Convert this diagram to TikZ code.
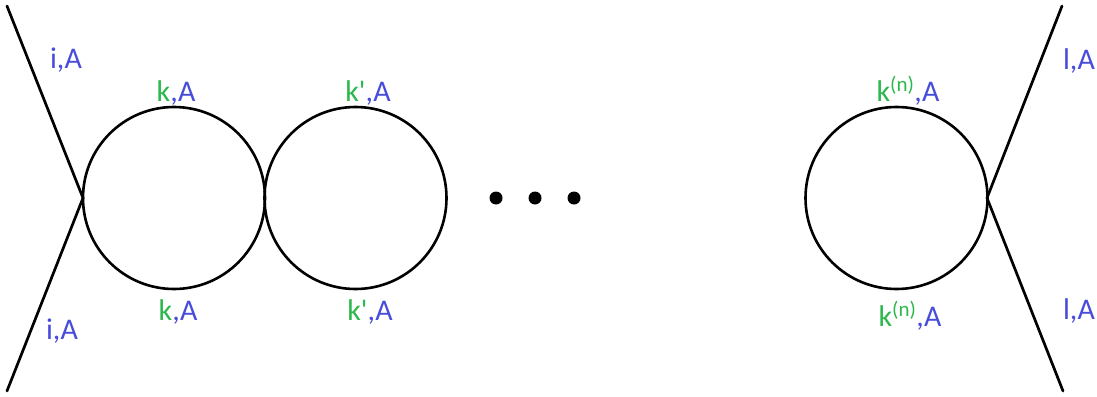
\documentclass[tikz,border=0pt]{standalone}
\usepackage{fontspec}
\setmainfont{Carlito}[Ligatures=TeXOff]
\definecolor{lblue}{RGB}{72,76,218}
\definecolor{lgreen}{RGB}{44,184,76}
\begin{document}
\begin{tikzpicture}[x=1pt,y=-1pt,
  line/.style={line width=2.7pt,line cap=round},
  loop/.style={circle,draw,line width=2.6pt,minimum size=182pt,inner sep=0pt},
  lbl/.style={anchor=base,inner sep=0pt,text=lblue,font=\fontsize{30}{36}\selectfont},
  dot/.style={circle,fill=black,minimum size=13pt,inner sep=0pt}]
\useasboundingbox (0,0) rectangle (1097,396);
% vertices and free line ends
\coordinate (vl) at (83,198);
\coordinate (vr) at (987,198);
\coordinate (tl) at (7,6);
\coordinate (bl) at (7,391);
\coordinate (tr) at (1062,6);
\coordinate (br) at (1063,391);
% loops
\node[loop] (c1) at (174,198) {};
\node[loop] (c2) at (355.5,198) {};
\node[loop] (c3) at (896.5,198) {};
% external legs
\draw[line] (tl) -- (vl) -- (bl);
\draw[line] (tr) -- (vr) -- (br);
% dots
\node[dot] (d1) at (496,198) {};
\node[dot] (d2) at (535,198) {};
\node[dot] (d3) at (574,198) {};
% labels
\node[lbl] (li1) at (66,69) {i,A};
\node[lbl] (li2) at (62,339) {i,A};
\node[lbl] (lk1) at (176,101) {\textcolor{lgreen}{k},A};
\node[lbl] (lk2) at (178,320) {\textcolor{lgreen}{k},A};
\node[lbl] (lkp1) at (368,101) {\textcolor{lgreen}{k'},A};
\node[lbl] (lkp2) at (370,320) {\textcolor{lgreen}{k'},A};
\node[lbl] (lkn1) at (908,101) {\textcolor{lgreen}{k\textsuperscript{(n)}},A};
\node[lbl] (lkn2) at (910,326) {\textcolor{lgreen}{k\textsuperscript{(n)}},A};
\node[lbl] (ll1) at (1079,70) {l,A};
\node[lbl] (ll2) at (1079,319) {l,A};
\end{tikzpicture}
\end{document}
